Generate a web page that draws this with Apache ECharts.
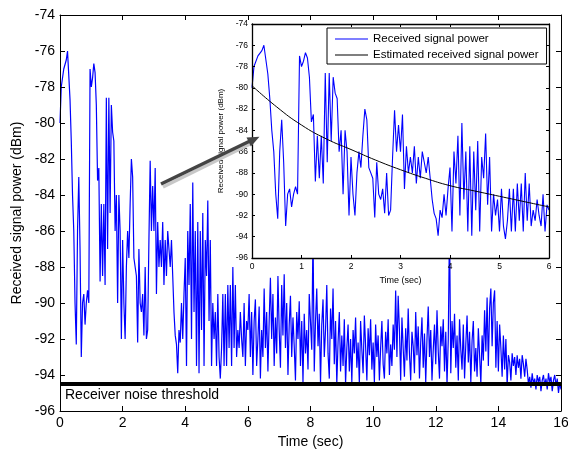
<!DOCTYPE html>
<html><head><meta charset="utf-8">
<script src="https://cdn.jsdelivr.net/npm/echarts@6/dist/echarts.min.js"></script>
<style>html,body{margin:0;padding:0;background:#fff}#c{width:568px;height:450px}</style>
</head><body><div id="c"></div>
<script>
// ---- data ----
const sampleStep = 0.04; // seconds between samples
const signalFirst = [ // 0 .. 5.96 s
 -80,-78,-78,-77,-77,-76.5,-76,-76,-78.7,-81,
 -84,-86,-90,-92.3,-86,-83,-87,-93,-90,-89.5,
 -91.2,-90,-89.3,-90,-77,-78,-77.5,-76.7,-77.2,-79,
 -83.2,-82.5,-88.8,-84.5,-88.5,-84.5,-89,-78.6,-87,-78.6,
 -85,-79,-80.5,-81,-86,-84,-90,-84,-86,-92,
 -86.5,-90,-92,-88,-86,-87.5,-84.5,-82,-83,-87.5,
 -88,-88.5,-92.2,-87,-90,-90.5,-89.5,-91.8,-88,-92,
 -91.5,-86.5,-82.1,-86,-83.5,-86,-82.5,-89.5,-85.5,-88,
 -86.5,-88,-85.5,-89,-86.5,-88.5,-86,-87,-88,-86.5,
 -88.5,-90.5,-91.8,-92.3,-93.9,-91.5,-92.2,-90,-92,-89.5,
 -87.5,-93.5,-86,-89,-84.5,-92,-83.3,-90.5,-86,-93.5,
 -85.5,-93.9,-86,-91.5,-85,-93.5,-86.5,-88.5,-84.3,-91,
 -86.5,-93.5,-90,-92,-90.5,-93.5,-89.5,-93,-94.2,-92.5,
 -89.5,-93.5,-89.5,-93.5,-89,-92.5,-89,-93.5,-88,-92.5,
 -89,-93,-91.5,-92.5,-90.5,-92,-93,-90,-93.5,-91
];
const signalRest = [ // 6.00 .. 16.00 s
 -91.5,-89.5,-93,-90.5,-94,-91,-89.8,-93.5,-92,-90.2,-94.2,-91.5,-93,-89.2,-92.5,-90.5,-93.8,-91,-88.6,-92,-89.5,-93.5,-90.8,-92.8,-88.5,
 -91.5,-93.6,-89,-91.8,-88.4,-92.5,-90,-94,-91.2,-89.6,-93,-90.8,-92.4,-94.3,-90.5,-92,-89.9,-93.5,-91,-94.4,-90.6,-92.8,-91.5,-93.7,-89.5,
 -89.4,-92.6,-86,-93.8,-91,-89.2,-92.4,-90.6,-94.5,-91.2,-89.8,-93,-91.5,-89,-92.8,-94.2,-90.3,-92,-89.2,-93.4,-91,-94.5,-92.2,-90.5,-93.8,
 -91.8,-93.5,-90.9,-94.5,-92.5,-91.2,-93.8,-92,-94.4,-91.5,-92.8,-90.8,-93.6,-92.2,-94.5,-91,-92.6,-93.9,-90.7,-92.4,-94.3,-91.4,-92.9,-90.9,-93.7,
 -92.2,-94.4,-91.2,-93,-91.8,-94.3,-92.5,-91,-93.4,-94.2,-91.6,-92.8,-90.9,-94,-92.3,-93.5,-91.2,-92.6,-89.3,-93,-89.6,-91.5,-94.3,-90.8,-92.5,
 -94.1,-91.4,-93.2,-90.3,-92.8,-94.3,-91.6,-92.4,-93.9,-90.5,-92.9,-91.3,-94.2,-92.2,-90.8,-93.6,-91.7,-94.4,-92,-90.2,-93,-91.5,-94.3,-92.6,-91.2,
 -93.4,-90.4,-92.7,-94.2,-91.3,-92.4,-90.9,-93.8,-91.6,-94.5,-92,-85.5,-93.9,-91,-92.5,-90.6,-93.6,-91.8,-94.3,-90.9,-92.6,-93.7,-91.2,-94.2,-92.3,
 -90.7,-93.3,-91.6,-94.4,-92.1,-91,-93.8,-92.5,-94.1,-91.4,-92.9,-94.5,-91.8,-93.2,-90.4,-92.7,-89.7,-93.5,-90.3,-89.2,-92.4,-90,-89.3,-93.6,-91,
 -93.8,-91.2,-92.5,-94.1,-91.8,-93.7,-92,-94.6,-92.9,-93.3,-94.3,-92.8,-93.5,-93,-94,-92.9,-93.6,-93.1,-94.2,-92.9,-93.4,-94.1,-93.1,-93.7,-94.5,
 -94.1,-94.7,-93.9,-94.5,-94.2,-94.8,-94,-94.4,-94.1,-94.9,-94.3,-94,-94.6,-94.2,-94.8,-93.9,-94.4,-94.1,-94.9,-94.3,-94,-94.6,-94.2,-95,-94.4,
 -94.8
];
const estTimes  = [0, 0.5, 1, 1.5, 2, 2.5, 3, 3.5, 4, 4.5, 5, 5.5, 6];
const estValues = [-79.8, -81.8, -83.5, -84.8, -85.8, -86.8, -87.7, -88.5, -89.2, -89.7, -90.2, -90.7, -91.2];
const thresholdLevel = -94.5;
const thresholdSpan = [0, 16];
const seriesNames = ['Received signal power', 'Estimated received signal power'];
const thresholdText = 'Receiver noise threshold';

// ---- build ----
const signalValues = signalFirst.concat(signalRest);
const signalPairs = signalValues.map((v, i) => [+(i * sampleStep).toFixed(2), v]);
const insetPairs = signalPairs.filter(p => p[0] <= 6);
const estPairs = estTimes.map((t, i) => [t, estValues[i]]);
const thrPairs = thresholdSpan.map(t => [t, thresholdLevel]);

const FF = "'Liberation Sans', Arial, sans-serif";
const blk = '#000';

function mkX(grid, pos, min, max, step, opts) {
  const o = {
    type: 'value', gridIndex: grid, position: pos, min, max, interval: step,
    axisLine: { show: true, onZero: false, lineStyle: { color: blk, width: opts.lw } },
    axisTick: { show: true, inside: true, length: opts.tick, lineStyle: { color: blk } },
    axisLabel: { show: opts.labels, color: blk, fontSize: opts.fs, margin: opts.margin, fontFamily: FF },
    splitLine: { show: false }, zlevel: opts.zl, z: 5
  };
  if (opts.name) {
    o.name = opts.name; o.nameLocation = 'middle'; o.nameGap = opts.nameGap;
    o.nameTextStyle = { color: blk, fontSize: opts.nfs, fontFamily: FF };
  }
  return o;
}

const mainOpts = { lw: 1, tick: 5, fs: 14, margin: 5, zl: 0 };
const insetOpts = { lw: 1.3, tick: 3, fs: 8.5, margin: 4, zl: 1 };

const option = {
  animation: false,
  backgroundColor: '#fff',
  grid: [
    { left: 60, top: 15, width: 501, height: 396, containLabel: false, outerBoundsMode: 'none' },
    { left: 252, top: 24, width: 297, height: 234, containLabel: false, outerBoundsMode: 'none', show: true,
      backgroundColor: '#fff', borderWidth: 0, zlevel: 1 }
  ],
  xAxis: [
    mkX(0, 'bottom', 0, 16, 2, Object.assign({ labels: true, name: 'Time (sec)', nameGap: 22, nfs: 14 }, mainOpts)),
    mkX(0, 'top', 0, 16, 2, Object.assign({ labels: false }, mainOpts)),
    mkX(1, 'bottom', 0, 6, 1, Object.assign({ labels: true, name: 'Time (sec)', nameGap: 15, nfs: 9 }, insetOpts)),
    mkX(1, 'top', 0, 6, 1, Object.assign({ labels: false }, insetOpts))
  ],
  yAxis: [
    mkX(0, 'left', -96, -74, 2, Object.assign({ labels: true, name: 'Received signal power (dBm)', nameGap: 35, nfs: 14 }, mainOpts)),
    mkX(0, 'right', -96, -74, 2, Object.assign({ labels: false }, mainOpts)),
    mkX(1, 'left', -96, -74, 2, Object.assign({ labels: true, name: 'Received signal power (dBm)', nameGap: 20, nfs: 8 }, insetOpts)),
    mkX(1, 'right', -96, -74, 2, Object.assign({ labels: false }, insetOpts))
  ],
  legend: {
    data: seriesNames, orient: 'vertical', left: 327, top: 28,
    icon: 'rect', itemWidth: 33, itemHeight: 1.2, itemGap: 4,
    padding: [5, 8, 3, 8], backgroundColor: '#fff', borderColor: blk, borderWidth: 1,
    borderRadius: 0,
    textStyle: { color: blk, fontSize: 11.5, fontFamily: FF },
    zlevel: 1, z: 20, selectedMode: false
  },
  series: [
    { name: seriesNames[0], type: 'line', xAxisIndex: 0, yAxisIndex: 0, data: signalPairs,
      symbol: 'none', lineStyle: { color: '#0000ff', width: 1.2 }, itemStyle: { color: '#0000ff' }, z: 2 },
    { name: 'threshold', type: 'line', xAxisIndex: 0, yAxisIndex: 0, data: thrPairs,
      symbol: 'none', lineStyle: { color: blk, width: 4 }, itemStyle: { color: blk }, z: 4 },
    { name: seriesNames[0], type: 'line', xAxisIndex: 2, yAxisIndex: 2, data: insetPairs,
      symbol: 'none', lineStyle: { color: '#0000ff', width: 1.1 }, itemStyle: { color: '#0000ff' }, zlevel: 1, z: 3 },
    { name: seriesNames[1], type: 'line', xAxisIndex: 2, yAxisIndex: 2, data: estPairs, smooth: true,
      symbol: 'none', lineStyle: { color: blk, width: 1 }, itemStyle: { color: blk }, zlevel: 1, z: 4 }
  ],
  graphic: [
    { type: 'text', left: 65, top: 388, z: 10,
      style: { text: thresholdText, fill: blk, font: "14px 'Liberation Sans', Arial, sans-serif" } },
    { type: 'line', zlevel: 2, z: 1, shape: { x1: 163, y1: 187, x2: 252, y2: 143 },
      style: { stroke: '#c8c8c8', lineWidth: 3.5 } },
    { type: 'line', zlevel: 2, z: 2, shape: { x1: 161, y1: 184, x2: 250, y2: 141 },
      style: { stroke: '#444', lineWidth: 3.5 } },
    { type: 'polygon', zlevel: 2, z: 3, shape: { points: [[259.5, 136.7], [250.9, 146.4], [246.5, 137.4]] },
      style: { fill: '#444' } }
  ]
};
const chart = echarts.init(document.getElementById('c'), null, { renderer: 'canvas' });
chart.setOption(option);
</script>
</body></html>
